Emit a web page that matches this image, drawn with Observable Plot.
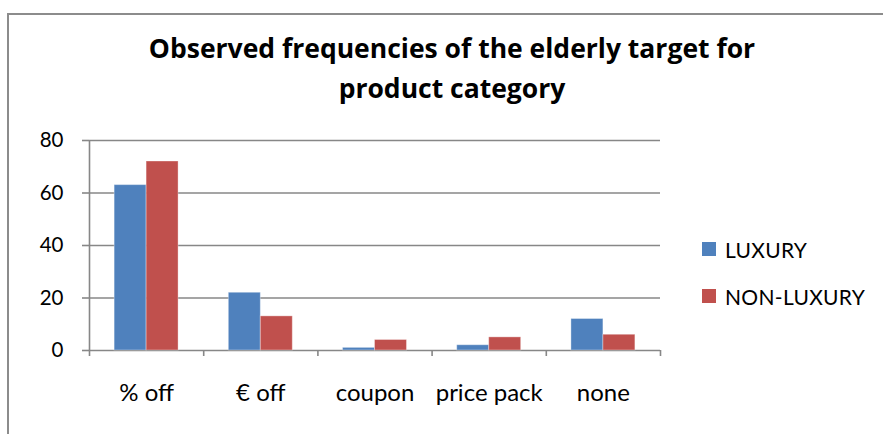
<!DOCTYPE html>
<html>
<head>
<meta charset="utf-8">
<script src="https://cdn.jsdelivr.net/npm/d3@7"></script>
<script src="https://cdn.jsdelivr.net/npm/@observablehq/plot@0.6"></script>
<style>
  body { margin: 0; background: #fff; font-family: Lato, "Open Sans", sans-serif; color: #000; }
  #chart { position: relative; width: 883px; height: 434px; overflow: hidden; background: #fff; }
  #frame { position: absolute; left: 7px; top: 13px; width: 1000px; height: 1000px;
           border-left: 2px solid #8c8c8c; border-top: 2px solid #8c8c8c; }
  #title { position: absolute; left: 0; top: 28px; width: 904px; text-align: center;
           font-family: "Open Sans", Lato, sans-serif;
           font-weight: bold; font-size: 26.5px; line-height: 40px; }
  #plot { position: absolute; left: 0; top: 120px; }
  #legend { position: absolute; left: 702px; top: 238px; font-size: 21px; letter-spacing: 0.3px; }
  #legend .row { display: flex; align-items: center; height: 22px; margin-bottom: 25px; }
  #legend .sw { width: 14px; height: 14px; margin-right: 9px; }
</style>
</head>
<body>
<div id="chart">
  <div id="frame"></div>
  <div id="title">Observed frequencies of the elderly target for<br>product category</div>
  <div id="plot"></div>
  <div id="legend"></div>
</div>
<script>
// Promotion types and observed counts for the elderly target
const categories = ["% off", "€ off", "coupon", "price pack", "none"];
const series = ["LUXURY", "NON-LUXURY"];
const luxury = [63, 22, 1, 2, 12];
const nonLuxury = [72, 13, 4, 5, 6];
const yTicks = [0, 20, 40, 60, 80];
const colors = ["#4f81bd", "#c0504d"];

// Long-format rows: one per category × series
const rows = categories.flatMap((c, i) => [
  {category: c, index: i, series: series[0], value: luxury[i]},
  {category: c, index: i, series: series[1], value: nonLuxury[i]}
]);

// Each category occupies one unit on x; the pair of bars sits in its middle
const barSpan = {"LUXURY": [0.22, 0.5], "NON-LUXURY": [0.5, 0.78]};
const boundaries = d3.range(categories.length + 1);
const centers = categories.map((c, i) => i + 0.5);
const gridColor = "#878787";

const plot = Plot.plot({
  width: 883,
  height: 314,
  marginLeft: 89,
  marginRight: 223,
  marginTop: 20,
  marginBottom: 84,
  style: {fontFamily: "Lato, 'Open Sans', sans-serif", background: "transparent"},
  x: {domain: [0, categories.length], axis: null},
  y: {domain: [0, 80], axis: null},
  color: {domain: series, range: colors},
  marks: [
    // horizontal gridlines
    Plot.ruleY(yTicks, {stroke: gridColor, strokeWidth: 1.6}),
    // value axis line
    Plot.ruleX([0], {y1: 0, y2: 80, stroke: gridColor, strokeWidth: 1.6}),
    Plot.axisY({ticks: yTicks, tickSize: 7, tickPadding: 19, stroke: gridColor,
                strokeWidth: 1.6, fontSize: 20.5, fill: "#000", label: null}),
    // category boundary ticks below the baseline
    Plot.axisX({ticks: boundaries, tickSize: 6, tickFormat: () => "", stroke: gridColor,
                strokeWidth: 1.6, label: null}),
    // category labels centred in each slot
    Plot.axisX({ticks: centers, tickSize: 0, tickPadding: 33, fontSize: 24, label: null,
                tickFormat: d => categories[Math.floor(d)], fill: "#000"}),
    Plot.rectY(rows, {
      x1: d => d.index + barSpan[d.series][0],
      x2: d => d.index + barSpan[d.series][1],
      y: "value",
      fill: "series",
      stroke: "#fff",
      strokeOpacity: 0.35,
      strokeWidth: 1
    })
  ]
});
document.getElementById("plot").appendChild(plot);

// Legend built from the plot's colour scale
const color = plot.scale("color");
const legend = d3.select("#legend");
series.forEach(s => {
  const row = legend.append("div").attr("class", "row");
  row.append("div").attr("class", "sw").style("background", color.apply(s));
  row.append("span").text(s);
});
</script>
</body>
</html>
